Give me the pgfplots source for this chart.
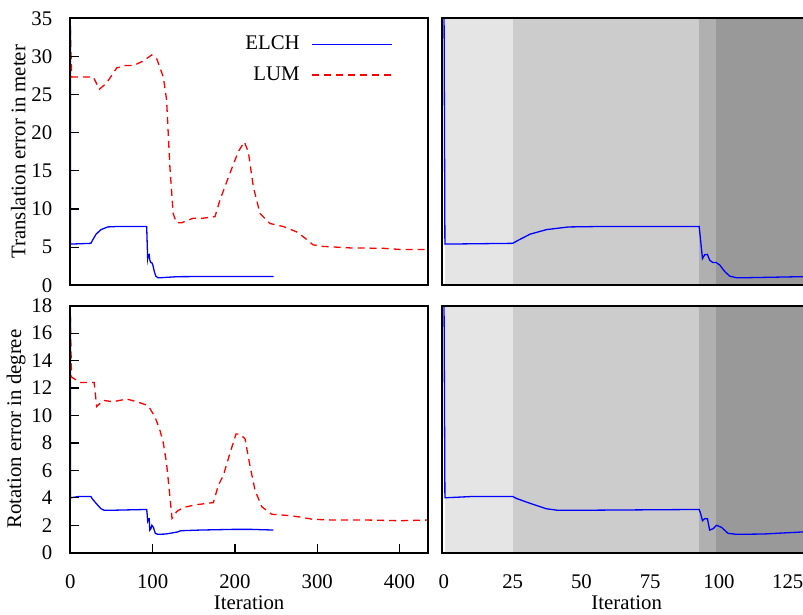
\documentclass[border=0pt]{standalone}
\usepackage{fontspec}
\setmainfont{Liberation Serif}
\usepackage{pgfplots}
\pgfplotsset{compat=1.18}
\usepackage{pgfplotstable}

\definecolor{shA}{gray}{0.9}
\definecolor{shB}{gray}{0.8}
\definecolor{shC}{gray}{0.69}
\definecolor{shD}{gray}{0.6}

% ELCH / LUM, translation error (m)
\pgfplotstableread{
x y
0 40
0.36 5.4
25 5.5
27 5.9
31.3 6.7
37.3 7.3
45.4 7.65
55.5 7.7
92.8 7.7
94.0 3.5
94.8 4.0
95.8 4.05
96.6 3.3
97.7 3.0
98.9 3.0
100.3 2.65
102.1 1.8
103.9 1.2
106.3 1.0
111 1.0
130 1.13
160 1.15
200 1.15
247 1.15
}\elchT
\pgfplotstableread{
x y
0 33.7
1.7 27.3
28 27.3
35.3 25.7
44 26.5
56.4 28.5
66.5 28.8
76.5 28.8
88.7 29.4
98.9 30.2
105 29.7
113 27.3
117 24.3
121 15.5
125 9.4
129 8.2
135.3 8.2
149.5 8.8
161.6 8.8
175.8 9.0
181.9 11.2
194 14.7
204 17.5
211.4 18.8
216.3 17.5
222.4 12.9
230.5 9.4
242.6 8.1
258.8 7.7
275 7.0
285 6.2
295 5.3
307 5.1
340 4.9
380 4.85
400.6 4.7
435 4.7
}\lumT
% rotation error (deg)
\pgfplotstableread{
x y
0 20
0.36 4.0
10.7 4.1
25 4.1
26.4 3.95
31.3 3.6
37.3 3.2
41 3.1
55.5 3.1
92.8 3.15
93.3 2.87
94.0 2.33
94.8 2.48
95.8 2.48
96.6 1.65
97.9 1.75
99.1 2.0
100.9 1.85
103.3 1.41
106.3 1.34
116 1.36
130.3 1.51
134 1.6
157.6 1.65
198 1.7
220 1.7
246.7 1.65
}\elchR
\pgfplotstableread{
x y
0 17.3
1.5 12.8
11.8 12.4
29 12.4
32 10.65
40 11.1
52 11.0
68.5 11.2
80.7 11.0
90.8 10.8
96.8 10.5
102.9 9.9
109 8.9
113 8.0
117 6.5
121 4.1
123.6 2.5
129.3 3.0
137.3 3.3
153.6 3.5
173.8 3.65
179.8 4.9
186 5.65
194 7.25
201.3 8.65
206 8.65
212.3 8.3
218.4 6.3
224.4 4.55
232.6 3.35
244.7 2.8
267 2.7
279 2.6
295 2.43
319.6 2.38
360 2.38
400.6 2.33
435 2.38
}\lumR

\pgfplotsset{
  panel/.style={scale only axis, axis on top, anchor=south west,
    font=\fontsize{10.4}{12.5}\selectfont,
    /pgf/number format/assume math mode=true,
    axis line style={line width=0.9pt},
    tick style={black, line width=0.6pt},
    yticklabel shift=5.5pt, xticklabel shift=7.5pt,
    xlabel shift=-3.5pt, ylabel shift=-4pt,
    ytick pos=left, xtick pos=bottom},
  leftp/.style={panel, width=178.85pt, xmin=0, xmax=434.6},
  rightp/.style={panel, width=184.7pt, xmin=-0.7, xmax=133.6, ytick=\empty},
  elch/.style={blue, line width=0.65pt},
  lum/.style={red, line width=0.65pt, dash pattern=on 3.5pt off 2.5pt},
}

\begin{document}
\begin{tikzpicture}
% top left
\begin{axis}[leftp, at={(35.15pt,164.85pt)}, height=133.5pt,
  ymin=0, ymax=35, ytick={0,5,...,35}, xtick=\empty,
  ylabel={Translation error in meter},
  legend plot pos=right, legend cell align=right,
  legend image code/.code={\draw[#1] (0pt,0pt) -- (40pt,0pt);},
  legend style={draw=none, fill=none, at={(0.92,0.965)}, anchor=north east,
    row sep=3pt, column sep=4pt, font=\fontsize{10.4}{12.5}\selectfont}]
\addplot[elch] table {\elchT};
\addplot[lum] table {\lumT};
\legend{ELCH,LUM}
\end{axis}
% bottom left
\begin{axis}[leftp, at={(35.15pt,31.15pt)}, height=123.5pt,
  ymin=0, ymax=18, ytick={0,2,...,18}, xtick={0,100,...,400},
  xlabel={Iteration}, ylabel={Rotation error in degree}]
\addplot[elch] table {\elchR};
\addplot[lum] table {\lumR};
\end{axis}
% top right
\begin{axis}[rightp, at={(221pt,164.85pt)}, height=133.5pt,
  ymin=0, ymax=35, xtick=\empty]
\addplot[fill=shA, draw=none] coordinates {(0.3,0) (25,0) (25,35) (0.3,35)};
\addplot[fill=shB, draw=none] coordinates {(25,0) (92.7,0) (92.7,35) (25,35)};
\addplot[fill=shC, draw=none] coordinates {(92.7,0) (98.9,0) (98.9,35) (92.7,35)};
\addplot[fill=shD, draw=none] coordinates {(98.9,0) (140,0) (140,35) (98.9,35)};
\addplot[elch] table {\elchT};
\end{axis}
% bottom right
\begin{axis}[rightp, at={(221pt,31.15pt)}, height=123.5pt,
  ymin=0, ymax=18, xtick={0,25,...,125}, major tick length=0pt,
  xlabel={Iteration}]
\addplot[fill=shA, draw=none] coordinates {(0.3,0) (25,0) (25,18) (0.3,18)};
\addplot[fill=shB, draw=none] coordinates {(25,0) (92.7,0) (92.7,18) (25,18)};
\addplot[fill=shC, draw=none] coordinates {(92.7,0) (98.9,0) (98.9,18) (92.7,18)};
\addplot[fill=shD, draw=none] coordinates {(98.9,0) (140,0) (140,18) (98.9,18)};
\addplot[elch] table {\elchR};
\end{axis}
\pgfresetboundingbox
\useasboundingbox (0,0) rectangle (401.5pt,307.5pt);
\end{tikzpicture}
\end{document}
